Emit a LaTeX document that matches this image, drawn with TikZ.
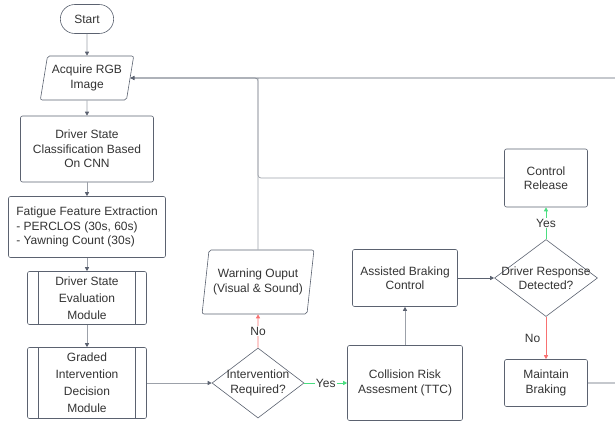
\documentclass[tikz,border=0pt]{standalone}
\usepackage{fontspec}
\setmainfont{Liberation Sans}
\usetikzlibrary{shapes.geometric, shapes.misc, calc, positioning, arrows.meta}

\definecolor{linegray}{HTML}{5B6270}
\definecolor{lightgray}{HTML}{9CA1A9}
\definecolor{textgray}{HTML}{333333}
\definecolor{noRed}{HTML}{F87171}
\definecolor{yesGreen}{HTML}{4ADE80}

\begin{document}
\begin{tikzpicture}[x=1pt, y=-1pt,
        every node/.style={align=center, text=textgray, font=\fontsize{12}{14.5}\selectfont},
        box/.style={rectangle, draw=linegray, line width=0.6pt, rounded corners=2pt},
        io/.style={trapezium, trapezium left angle=76, trapezium right angle=104,
            trapezium stretches=true, draw=linegray, line width=0.6pt, rounded corners=2pt, inner sep=0pt},
        predef/.style={box, font=\fontsize{12}{17}\selectfont, path picture={
            \draw[linegray, line width=0.6pt] ([xshift=11pt]path picture bounding box.north west) -- ([xshift=11pt]path picture bounding box.south west);
            \draw[linegray, line width=0.6pt] ([xshift=-11pt]path picture bounding box.north east) -- ([xshift=-11pt]path picture bounding box.south east);}},
        decision/.style={diamond, draw=linegray, line width=0.6pt, inner xsep=-40pt, inner ysep=0pt},
        arr/.style={draw=lightgray, line width=0.7pt, -{Triangle[length=4pt,width=4pt,color=linegray]}},
        red arr/.style={draw=noRed, line width=0.7pt, -{Triangle[length=4pt,width=4pt]}},
        green arr/.style={draw=yesGreen, line width=0.7pt, -{Triangle[length=4pt,width=4pt]}},
        lab/.style={midway, fill=white, inner sep=1pt}]
        \clip (0,0) rectangle (615,424);

        % Start
        \node (start) [rounded rectangle, draw=linegray, line width=0.6pt, minimum width=60pt, minimum height=29pt] at (87,19) {Start};

        % Camera input
        \node (acq) [io, minimum width=94pt, minimum height=44pt] at (87,78) {Acquire RGB\\Image};

        % CNN classification
        \node (cls) [box, minimum width=133pt, minimum height=66pt] at (87,149)
        {Driver State\\Classification Based\\On CNN};

        % Feature extraction
        \node (fat) [box, align=left, minimum width=157pt, minimum height=61pt] at (87,227)
        {Fatigue Feature Extraction\\- PERCLOS (30s, 60s)\\- Yawning Count (30s)};

        % Modules
        \node (eval) [predef, minimum width=119pt, minimum height=53pt] at (87,298)
        {Driver State\\Evaluation\\Module};
        \node (grd) [predef, minimum width=119pt, minimum height=71pt] at (87,383)
        {Graded\\Intervention\\Decision\\Module};

        % First decision
        \node (int) [decision, minimum width=92pt, minimum height=70pt] at (258,383)
        {Intervention\\Required?};

        % Warning output
        \node (warn) [io, minimum width=112pt, minimum height=64pt] at (258,282)
        {Warning Ouput\\(Visual \& Sound)};

        % Braking branch
        \node (col) [box, minimum width=115pt, minimum height=75pt] at (405,383)
        {Collision Risk\\Assesment (TTC)};
        \node (asb) [box, minimum width=105pt, minimum height=57pt] at (405,278)
        {Assisted Braking\\Control};

        % Second decision
        \node (drv) [decision, minimum width=103pt, minimum height=77pt] at (546,278)
        {Driver Response\\Detected?};

        % Outcomes
        \node (rel) [box, minimum width=83pt, minimum height=58pt] at (546,178) {Control\\Release};
        \node (mnt) [box, minimum width=83pt, minimum height=47pt] at (546,383) {Maintain\\Braking};

        % Main flow
        \draw[arr] (start.south) -- (acq.north);
        \draw[arr] (acq.south) -- (cls.north);
        \draw[arr] (cls.south) -- (fat.north);
        \draw[arr] (fat.south) -- (eval.north);
        \draw[arr] (eval.south) -- (grd.north);
        \draw[arr] (grd.east) -- (int.west);

        % Branches
        \draw[red arr] (int.north) -- node[lab] {No} (warn.south);
        \draw[green arr] (int.east) -- node[lab] {Yes} (col.west);
        \draw[arr] (col.north) -- (asb.south);
        \draw[arr, draw=linegray] (asb.east) -- (drv.west);
        \draw[green arr] (drv.north) -- node[lab] {Yes} (rel.south);
        \draw[red arr] (drv.south) -- node[midway, left=2pt] {No} (mnt.north);

        % Feedback loops
        \draw[arr, draw=lightgray, rounded corners=3pt] (warn.north) |- (acq.east);
        \draw[draw=lightgray, line width=0.7pt, rounded corners=3pt] (rel.west) -| (warn.north |- acq.east);
        \draw[arr, draw=linegray, rounded corners=3pt] (mnt.east) -- ++(40,0) |- (acq.east);
\end{tikzpicture}
\end{document}
